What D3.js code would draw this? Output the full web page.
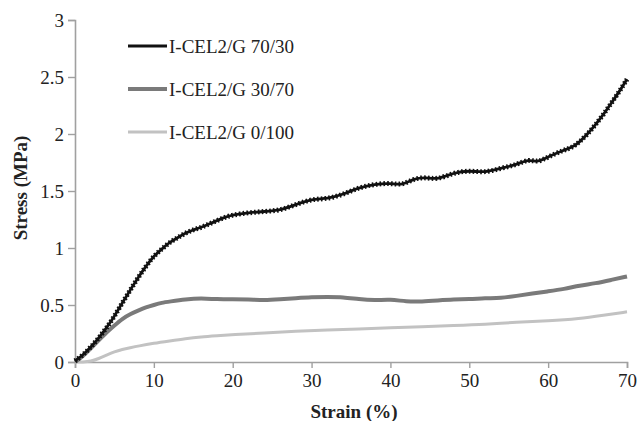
<!DOCTYPE html>
<html>
<head>
<meta charset="utf-8">
<script src="https://cdn.jsdelivr.net/npm/d3@7"></script>
<style>
  body { margin: 0; background: #fff; }
  svg text { font-family: "Times New Roman", "Liberation Serif", "DejaVu Serif", serif; fill: #222; }
</style>
</head>
<body>
<div id="chart"></div>
<script>
// strain (%) / stress (MPa)
const strain7030 = [0, 1, 2, 3, 4, 5, 6, 7, 8, 9, 10, 11, 12, 13, 14, 15, 16, 17, 18, 19, 20, 22, 24, 26, 28, 30, 32, 34, 36, 38, 40, 41.5, 43, 44.5, 46, 48, 50, 52, 54, 56, 57.5, 58.7, 60, 62, 63, 64, 65, 66, 67, 68, 69, 70];
const stress7030 = [0.01, 0.06, 0.13, 0.21, 0.3, 0.4, 0.52, 0.63, 0.74, 0.84, 0.93, 0.99, 1.05, 1.09, 1.13, 1.16, 1.18, 1.21, 1.24, 1.27, 1.29, 1.31, 1.32, 1.33, 1.38, 1.43, 1.43, 1.47, 1.53, 1.56, 1.57, 1.55, 1.61, 1.62, 1.6, 1.66, 1.68, 1.66, 1.7, 1.73, 1.78, 1.75, 1.8, 1.86, 1.88, 1.93, 2.0, 2.08, 2.17, 2.27, 2.37, 2.48];

const strain3070 = [0, 1, 2, 3, 4, 5, 6, 7, 8, 9, 10, 11, 12, 14, 16, 18, 20, 22, 24, 26, 28, 30, 32, 34, 36, 38, 40, 42, 44, 46, 48, 50, 52, 54, 56, 58, 60, 62, 64, 66, 68, 70];
const stress3070 = [0, 0.05, 0.12, 0.19, 0.26, 0.32, 0.38, 0.42, 0.45, 0.48, 0.5, 0.52, 0.53, 0.55, 0.56, 0.55, 0.55, 0.55, 0.54, 0.55, 0.56, 0.57, 0.57, 0.57, 0.55, 0.54, 0.55, 0.53, 0.53, 0.54, 0.55, 0.55, 0.56, 0.56, 0.58, 0.6, 0.62, 0.64, 0.67, 0.69, 0.72, 0.75];

const strain0100 = [0, 1, 2, 3, 4, 5, 6, 7, 8, 10, 12, 14, 16, 18, 20, 24, 28, 32, 36, 40, 44, 48, 52, 56, 60, 64, 67, 70];
const stress0100 = [0, 0, 0.005, 0.03, 0.06, 0.09, 0.11, 0.125, 0.14, 0.165, 0.185, 0.205, 0.22, 0.23, 0.24, 0.255, 0.27, 0.28, 0.29, 0.3, 0.31, 0.32, 0.33, 0.35, 0.36, 0.38, 0.41, 0.44];

const seriesNames = ["I-CEL2/G 70/30", "I-CEL2/G 30/70", "I-CEL2/G 0/100"];
const xTicks = [0, 10, 20, 30, 40, 50, 60, 70];
const yTicks = [0, 0.5, 1, 1.5, 2, 2.5, 3];

const width = 639, height = 421;
const margin = { left: 75, right: 12, top: 20, bottom: 59 };
const serif = "'Times New Roman', 'Liberation Serif', 'DejaVu Serif', serif";

const svg = d3.select("#chart").append("svg")
  .attr("width", width)
  .attr("height", height);

const x = d3.scaleLinear().domain([0, 70]).range([margin.left, width - margin.right]);
const y = d3.scaleLinear().domain([0, 3]).range([height - margin.bottom, margin.top]);

const axisColor = "#a0a0a0";

// axes
const gx = svg.append("g")
  .attr("transform", "translate(0," + y(0) + ")")
  .call(d3.axisBottom(x).tickValues(xTicks).tickSizeOuter(0).tickSize(6).tickPadding(6));
const gy = svg.append("g")
  .attr("transform", "translate(" + x(0) + ",0)")
  .call(d3.axisLeft(y).tickValues(yTicks).tickFormat(d3.format("")).tickSizeOuter(0).tickSize(7).tickPadding(4));

[gx, gy].forEach(g => {
  g.attr("font-family", serif);
  g.select(".domain").attr("stroke", axisColor).attr("stroke-width", 1.6);
  g.selectAll(".tick line").attr("stroke", axisColor).attr("stroke-width", 1.4);
  g.selectAll(".tick text")
    .attr("fill", "#222")
    .style("font-family", serif)
    .style("font-size", "19px");
});

// curves
const line = d3.line()
  .x(d => x(d[0]))
  .y(d => y(d[1]))
  .curve(d3.curveBasis);

const light = d3.zip(strain0100, stress0100);
const mid   = d3.zip(strain3070, stress3070);
const dark  = d3.zip(strain7030, stress7030);

svg.append("path").attr("d", line(light))
  .attr("fill", "none").attr("stroke", "#c2c2c2").attr("stroke-width", 3);
svg.append("path").attr("d", line(mid))
  .attr("fill", "none").attr("stroke", "#7a7a7a").attr("stroke-width", 4);
svg.append("path").attr("d", line(dark))
  .attr("fill", "none").attr("stroke", "#111").attr("stroke-width", 2.8);
// serrated texture of the black trace
svg.append("path").attr("d", line(dark))
  .attr("fill", "none").attr("stroke", "#111").attr("stroke-width", 5)
  .attr("stroke-dasharray", "1.6 2.2");

// legend
const legendColors = ["#111", "#7a7a7a", "#c2c2c2"];
const legendWidths = [3, 4, 3];
const legendY = [46, 89, 132];
const legend = svg.append("g");
seriesNames.forEach((name, i) => {
  legend.append("line")
    .attr("x1", 128).attr("x2", 167)
    .attr("y1", legendY[i]).attr("y2", legendY[i])
    .attr("stroke", legendColors[i]).attr("stroke-width", legendWidths[i]);
  legend.append("text")
    .attr("x", 169).attr("y", legendY[i])
    .attr("dy", "0.35em")
    .style("font-family", serif)
    .style("font-size", "19px")
    .text(name);
});

// axis titles
svg.append("text")
  .attr("x", 354).attr("y", 411)
  .attr("dy", "0.35em")
  .attr("text-anchor", "middle")
  .style("font-family", serif)
  .style("font-size", "19px").style("font-weight", "bold")
  .text("Strain (%)");

svg.append("text")
  .attr("transform", "translate(20,188) rotate(-90)")
  .attr("dy", "0.35em")
  .attr("text-anchor", "middle")
  .style("font-family", serif)
  .style("font-size", "19px").style("font-weight", "bold")
  .text("Stress (MPa)");
</script>
</body>
</html>
